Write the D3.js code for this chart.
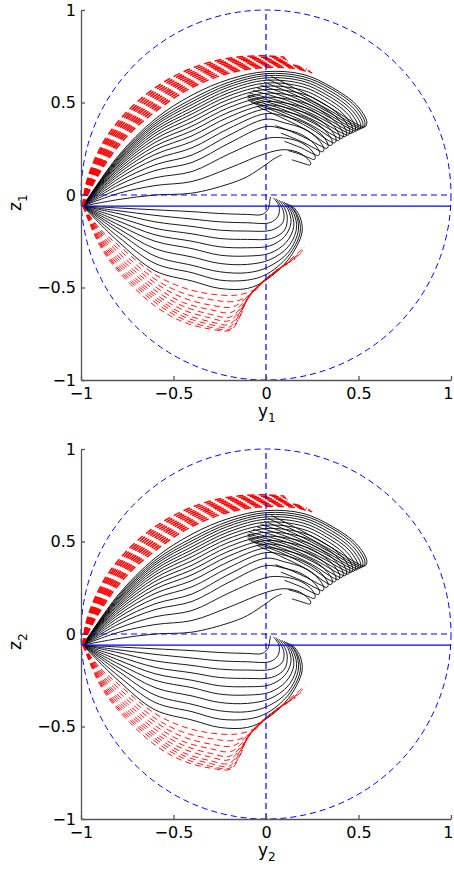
<!DOCTYPE html>
<html><head><meta charset="utf-8">
<script src="https://cdn.jsdelivr.net/npm/d3@7"></script>
<style>body{margin:0;background:#fff}svg{display:block}</style>
</head><body><svg id="c" width="454" height="872"></svg>
<script>
// ---------- data (in data units [y, z]) ----------
const tickValues = [-1, -0.5, 0, 0.5, 1];
const tickLabels = ["\u22121", "\u22120.5", "0", "0.5", "1"];
const axisNames = ["y", "y"];
const axisSubs = ["1", "2"];
const zNames = ["z", "z"];
const solidLineZ = -0.06;

const upperBlack = [
 [[-0.99,-0.06],[-0.8,0.21],[-0.6,0.41],[-0.4,0.54],[-0.2,0.625],[0,0.667],[0.2,0.652],[0.36,0.58],[0.49,0.486],[0.545,0.396],[0.535,0.368],[0.49,0.384],[0.35,0.47],[0.18,0.565],[0.03,0.64]],
 [[-0.99,-0.06],[-0.8,0.202],[-0.6,0.397],[-0.4,0.519],[-0.2,0.61],[0,0.656],[0.2,0.64],[0.35,0.575],[0.48,0.481],[0.535,0.391],[0.525,0.363],[0.48,0.379],[0.34,0.46],[0.17,0.552],[0.01,0.625]],
 [[-0.99,-0.06],[-0.8,0.195],[-0.6,0.385],[-0.4,0.504],[-0.2,0.597],[0,0.645],[0.2,0.628],[0.344,0.564],[0.47,0.472],[0.524,0.385],[0.514,0.358],[0.47,0.374],[0.33,0.452],[0.16,0.54],[-0.01,0.61]],
 [[-0.99,-0.06],[-0.8,0.188],[-0.6,0.374],[-0.4,0.489],[-0.2,0.584],[0,0.633],[0.2,0.615],[0.336,0.553],[0.459,0.464],[0.512,0.379],[0.502,0.352],[0.459,0.367],[0.32,0.445],[0.15,0.528],[-0.03,0.595]],
 [[-0.99,-0.06],[-0.8,0.181],[-0.6,0.361],[-0.4,0.472],[-0.2,0.569],[0,0.62],[0.2,0.60],[0.328,0.541],[0.448,0.455],[0.498,0.372],[0.489,0.346],[0.448,0.361],[0.31,0.437],[0.14,0.516],[-0.05,0.58]],
 [[-0.99,-0.06],[-0.8,0.174],[-0.6,0.348],[-0.4,0.455],[-0.2,0.553],[0,0.605],[0.2,0.584],[0.317,0.53],[0.435,0.445],[0.484,0.364],[0.475,0.339],[0.435,0.353],[0.3,0.428],[0.13,0.505],[-0.07,0.565]],
 [[-0.99,-0.06],[-0.8,0.166],[-0.6,0.334],[-0.4,0.438],[-0.2,0.536],[0,0.588],[0.2,0.566],[0.308,0.516],[0.421,0.435],[0.469,0.356],[0.46,0.332],[0.421,0.346],[0.29,0.418],[0.12,0.494],[-0.09,0.55]],
 [[-0.99,-0.06],[-0.8,0.157],[-0.6,0.319],[-0.4,0.418],[-0.2,0.517],[0,0.57],[0.2,0.546],[0.298,0.502],[0.407,0.423],[0.453,0.348],[0.445,0.324],[0.407,0.337],[0.28,0.408],[0.11,0.484],[-0.1,0.54]],
 [[-0.99,-0.06],[-0.8,0.148],[-0.6,0.302],[-0.4,0.396],[-0.2,0.496],[0,0.55],[0.2,0.524],[0.288,0.485],[0.392,0.409],[0.436,0.337],[0.428,0.315],[0.392,0.328],[0.27,0.398],[0.1,0.474],[-0.1,0.53]],
 [[-0.99,-0.06],[-0.8,0.138],[-0.6,0.284],[-0.4,0.372],[-0.2,0.473],[0,0.528],[0.2,0.50],[0.275,0.468],[0.375,0.396],[0.418,0.327],[0.41,0.305],[0.375,0.317],[0.26,0.387],[0.09,0.463],[-0.1,0.52]],
 [[-0.99,-0.06],[-0.8,0.127],[-0.6,0.264],[-0.4,0.347],[-0.2,0.448],[0,0.505],[0.2,0.475],[0.264,0.449],[0.359,0.38],[0.399,0.314],[0.392,0.294],[0.359,0.306],[0.25,0.375],[0.08,0.452],[-0.095,0.51]],
 [[-0.99,-0.06],[-0.8,0.115],[-0.6,0.243],[-0.4,0.32],[-0.2,0.422],[0,0.486],[0.15,0.462],[0.249,0.43],[0.34,0.365],[0.379,0.302],[0.372,0.282],[0.34,0.293],[0.24,0.36],[0.08,0.44],[-0.08,0.5]],
 [[-0.99,-0.06],[-0.8,0.102],[-0.6,0.219],[-0.4,0.289],[-0.2,0.392],[0,0.465],[0.13,0.445],[0.237,0.408],[0.322,0.346],[0.359,0.286],[0.352,0.268],[0.322,0.279],[0.23,0.345],[0.08,0.42],[-0.05,0.48]],
 [[-0.99,-0.06],[-0.8,0.087],[-0.6,0.193],[-0.4,0.255],[-0.2,0.36],[0,0.44],[0.12,0.42],[0.221,0.383],[0.302,0.325],[0.336,0.269],[0.33,0.252],[0.302,0.262],[0.22,0.305],[0.12,0.35],[0.05,0.375]],
 [[-0.99,-0.06],[-0.8,0.07],[-0.6,0.163],[-0.4,0.216],[-0.2,0.323],[0,0.41],[0.1,0.39],[0.205,0.357],[0.281,0.302],[0.313,0.25],[0.307,0.234],[0.281,0.243],[0.2,0.285],[0.08,0.335]],
 [[-0.99,-0.06],[-0.8,0.052],[-0.6,0.132],[-0.4,0.176],[-0.2,0.28],[0,0.37],[0.1,0.355],[0.189,0.328],[0.26,0.277],[0.29,0.229],[0.284,0.214],[0.26,0.22],[0.19,0.255],[0.1,0.29]],
 [[-0.99,-0.06],[-0.8,0.031],[-0.6,0.093],[-0.4,0.127],[-0.2,0.222],[0,0.305],[0.08,0.31],[0.175,0.29],[0.24,0.248],[0.266,0.206],[0.262,0.192],[0.24,0.198],[0.18,0.222],[0.12,0.24]],
 [[-0.99,-0.06],[-0.8,0.008],[-0.6,0.051],[-0.4,0.073],[-0.2,0.145],[0,0.225],[0.1,0.245],[0.18,0.228],[0.225,0.195],[0.242,0.172],[0.238,0.162],[0.22,0.165],[0.18,0.178],[0.14,0.19]],
 [[-0.99,-0.06],[-0.8,-0.025],[-0.6,0.0],[-0.4,0.01],[-0.2,0.06],[-0.1,0.1],[0,0.165],[0.05,0.2],[0.085,0.216]]
];

const lowerBlack = [
 [[-0.99,-0.06],[-0.8,-0.07],[-0.6,-0.08],[-0.4,-0.09],[-0.25,-0.1],[-0.1,-0.105],[-0.02,-0.105],[0.012,-0.075],[0.02,-0.035],[0.025,-0.01]],
 [[-0.99,-0.06],[-0.8,-0.085],[-0.6,-0.11],[-0.4,-0.13],[-0.25,-0.145],[-0.1,-0.15],[0.02,-0.15],[0.065,-0.115],[0.07,-0.06],[0.04,-0.015]],
 [[-0.99,-0.06],[-0.8,-0.1],[-0.6,-0.145],[-0.4,-0.17],[-0.25,-0.19],[-0.1,-0.195],[0.03,-0.19],[0.09,-0.15],[0.095,-0.09],[0.055,-0.02]],
 [[-0.99,-0.06],[-0.8,-0.12],[-0.6,-0.18],[-0.4,-0.21],[-0.25,-0.235],[-0.1,-0.24],[0.03,-0.235],[0.1,-0.19],[0.115,-0.12],[0.1,-0.07],[0.07,-0.027]],
 [[-0.99,-0.06],[-0.8,-0.14],[-0.6,-0.215],[-0.4,-0.25],[-0.25,-0.28],[-0.1,-0.285],[0.02,-0.275],[0.1,-0.225],[0.135,-0.15],[0.12,-0.08],[0.085,-0.033]],
 [[-0.99,-0.06],[-0.8,-0.16],[-0.6,-0.25],[-0.4,-0.29],[-0.25,-0.325],[-0.1,-0.33],[0.02,-0.315],[0.11,-0.255],[0.15,-0.17],[0.135,-0.09],[0.098,-0.038]],
 [[-0.99,-0.06],[-0.8,-0.18],[-0.6,-0.29],[-0.4,-0.335],[-0.25,-0.37],[-0.1,-0.375],[0.02,-0.35],[0.12,-0.28],[0.165,-0.18],[0.15,-0.1],[0.11,-0.043]],
 [[-0.99,-0.06],[-0.8,-0.2],[-0.6,-0.33],[-0.4,-0.38],[-0.25,-0.415],[-0.1,-0.42],[0.01,-0.39],[0.12,-0.31],[0.175,-0.19],[0.16,-0.1],[0.12,-0.048]],
 [[-0.99,-0.06],[-0.8,-0.225],[-0.6,-0.37],[-0.4,-0.42],[-0.25,-0.46],[-0.1,-0.46],[0.0,-0.43],[0.12,-0.33],[0.185,-0.2],[0.17,-0.11],[0.13,-0.052]],
 [[-0.99,-0.06],[-0.8,-0.25],[-0.6,-0.41],[-0.4,-0.465],[-0.25,-0.505],[-0.1,-0.505],[0.0,-0.46],[0.12,-0.35],[0.195,-0.2],[0.18,-0.11],[0.14,-0.056]]
];

const upperRed = [
 [[-0.99,-0.06],[-0.95,0.03],[-0.89,0.135],[-0.81,0.25],[-0.71,0.36],[-0.58,0.465],[-0.44,0.56],[-0.29,0.63],[-0.13,0.675],[0.03,0.69],[0.15,0.685],[0.25,0.66]],
 [[-0.99,-0.06],[-0.953,0.032],[-0.895,0.139],[-0.817,0.256],[-0.717,0.368],[-0.587,0.474],[-0.446,0.569],[-0.294,0.639],[-0.133,0.683],[0.027,0.697],[0.144,0.692],[0.24,0.668]],
 [[-0.99,-0.06],[-0.956,0.034],[-0.9,0.143],[-0.823,0.261],[-0.723,0.376],[-0.593,0.484],[-0.451,0.579],[-0.299,0.648],[-0.137,0.691],[0.023,0.704],[0.139,0.698],[0.22,0.68]],
 [[-0.99,-0.06],[-0.958,0.037],[-0.905,0.147],[-0.83,0.267],[-0.73,0.383],[-0.6,0.493],[-0.457,0.588],[-0.303,0.657],[-0.14,0.698],[0.02,0.711],[0.133,0.705],[0.2,0.69]],
 [[-0.99,-0.06],[-0.961,0.039],[-0.91,0.151],[-0.837,0.272],[-0.737,0.391],[-0.607,0.503],[-0.462,0.598],[-0.308,0.666],[-0.143,0.706],[0.017,0.718],[0.128,0.712]],
 [[-0.99,-0.06],[-0.964,0.041],[-0.915,0.154],[-0.843,0.278],[-0.743,0.399],[-0.613,0.512],[-0.468,0.607],[-0.312,0.674],[-0.147,0.714],[0.013,0.724],[0.122,0.718]],
 [[-0.99,-0.06],[-0.967,0.043],[-0.92,0.158],[-0.85,0.283],[-0.75,0.407],[-0.62,0.522],[-0.473,0.617],[-0.317,0.683],[-0.15,0.722],[0.01,0.731],[0.117,0.725]],
 [[-0.99,-0.06],[-0.969,0.046],[-0.925,0.162],[-0.857,0.289],[-0.757,0.414],[-0.627,0.531],[-0.479,0.626],[-0.321,0.692],[-0.153,0.729],[0.007,0.738],[0.111,0.732]],
 [[-0.99,-0.06],[-0.972,0.048],[-0.93,0.166],[-0.863,0.294],[-0.763,0.422],[-0.633,0.541],[-0.484,0.636],[-0.326,0.701],[-0.157,0.737],[0.003,0.745],[0.106,0.738]],
 [[-0.99,-0.06],[-0.975,0.05],[-0.935,0.17],[-0.87,0.3],[-0.77,0.43],[-0.64,0.55],[-0.49,0.645],[-0.33,0.71],[-0.16,0.745],[0.0,0.752],[0.1,0.745]]
];

const lowerRed = [
 [[-0.99,-0.06],[-0.9,-0.18],[-0.8,-0.27],[-0.6,-0.43],[-0.45,-0.5],[-0.3,-0.535],[-0.15,-0.54],[-0.05,-0.505],[0.0,-0.455],[0.1,-0.375],[0.21,-0.28]],
 [[-0.99,-0.06],[-0.9,-0.19],[-0.8,-0.29],[-0.6,-0.455],[-0.45,-0.53],[-0.3,-0.565],[-0.17,-0.575],[-0.08,-0.535],[0.0,-0.455],[0.1,-0.38],[0.2,-0.3]],
 [[-0.99,-0.06],[-0.9,-0.2],[-0.8,-0.31],[-0.6,-0.475],[-0.45,-0.555],[-0.3,-0.595],[-0.18,-0.605],[-0.1,-0.55],[0.0,-0.455],[0.1,-0.38],[0.19,-0.315]],
 [[-0.99,-0.06],[-0.9,-0.21],[-0.8,-0.33],[-0.6,-0.495],[-0.45,-0.58],[-0.3,-0.62],[-0.19,-0.635],[-0.11,-0.57],[-0.05,-0.5],[0.0,-0.455],[0.09,-0.385],[0.175,-0.33]],
 [[-0.99,-0.06],[-0.9,-0.22],[-0.8,-0.345],[-0.6,-0.515],[-0.45,-0.6],[-0.3,-0.645],[-0.195,-0.66],[-0.12,-0.59],[-0.06,-0.51],[0.0,-0.455],[0.08,-0.39],[0.16,-0.345]],
 [[-0.99,-0.06],[-0.9,-0.23],[-0.8,-0.36],[-0.6,-0.535],[-0.45,-0.62],[-0.3,-0.665],[-0.2,-0.68],[-0.13,-0.61],[-0.07,-0.52],[0.0,-0.455],[0.07,-0.4],[0.14,-0.355]],
 [[-0.99,-0.06],[-0.9,-0.24],[-0.8,-0.375],[-0.6,-0.55],[-0.45,-0.64],[-0.3,-0.685],[-0.2,-0.7],[-0.135,-0.625],[-0.08,-0.53],[-0.01,-0.46],[0.06,-0.41],[0.12,-0.37]],
 [[-0.99,-0.06],[-0.9,-0.25],[-0.8,-0.39],[-0.6,-0.565],[-0.45,-0.655],[-0.3,-0.7],[-0.2,-0.715],[-0.14,-0.64],[-0.09,-0.545],[-0.02,-0.47],[0.04,-0.42],[0.09,-0.385]],
 [[-0.99,-0.06],[-0.9,-0.26],[-0.8,-0.4],[-0.6,-0.58],[-0.45,-0.67],[-0.3,-0.715],[-0.195,-0.725],[-0.14,-0.655],[-0.1,-0.56],[-0.03,-0.48],[0.02,-0.44],[0.06,-0.4]],
 [[-0.99,-0.06],[-0.9,-0.27],[-0.8,-0.41],[-0.6,-0.6],[-0.45,-0.685],[-0.3,-0.725],[-0.19,-0.73],[-0.145,-0.665],[-0.11,-0.575],[-0.04,-0.49],[0.0,-0.455],[0.03,-0.42]]
];

// ---------- layout ----------
const panels = [
  {top: 10, bottom: 380, xlabY: 417, zlabY: 211},
  {top: 449, bottom: 819, xlabY: 856, zlabY: 650}
];
const plotLeft = 81, plotRight = 451;
const FONT = "'DejaVu Sans', sans-serif";

const svg = d3.select("#c");

panels.forEach((p, pi) => {
  const x = d3.scaleLinear().domain([-1, 1]).range([plotLeft, plotRight]);
  const y = d3.scaleLinear().domain([-1, 1]).range([p.bottom, p.top]);
  const g = svg.append("g");
  const line = d3.line().x(d => x(d[0])).y(d => y(d[1])).curve(d3.curveCatmullRom.alpha(0.5));

  // black curves
  g.append("g").selectAll("path").data(upperBlack.concat(lowerBlack)).join("path")
    .attr("d", line).attr("fill", "none").attr("stroke", "#000").attr("stroke-width", 0.9);

  // red dashed curves
  g.append("g").selectAll("path").data(upperRed).join("path")
    .attr("d", line).attr("fill", "none").attr("stroke", "#ff0000")
    .attr("stroke-width", 1.5).attr("stroke-dasharray", "7,4");
  g.append("g").selectAll("path").data(lowerRed).join("path")
    .attr("d", line).attr("fill", "none").attr("stroke", "#ff0000")
    .attr("stroke-width", 0.9).attr("stroke-dasharray", "6,4");

  // blue reference lines
  const blue = g.append("g").attr("fill", "none").attr("stroke", "#0000ff");
  blue.append("circle").attr("cx", x(0)).attr("cy", y(0)).attr("r", x(1) - x(0))
    .attr("stroke-dasharray", "6,4").attr("stroke-width", 1);
  blue.append("line").attr("x1", x(0)).attr("x2", x(0)).attr("y1", y(-1)).attr("y2", y(1))
    .attr("stroke-dasharray", "6,4").attr("stroke-width", 1.2);
  blue.append("line").attr("x1", x(-1)).attr("x2", x(1)).attr("y1", y(0)).attr("y2", y(0))
    .attr("stroke-dasharray", "6,4").attr("stroke-width", 1.2);
  blue.append("line").attr("x1", x(-1)).attr("x2", x(1)).attr("y1", y(solidLineZ)).attr("y2", y(solidLineZ))
    .attr("stroke-width", 1.3);

  // axes
  const fmt = (d) => tickLabels[tickValues.indexOf(d)];
  const ax = g.append("g").attr("transform", `translate(${plotLeft},0)`)
    .call(d3.axisLeft(y).tickValues(tickValues).tickFormat(fmt).tickSize(-4).tickSizeOuter(0).tickPadding(5));
  const bx = g.append("g").attr("transform", `translate(0,${p.bottom})`)
    .call(d3.axisBottom(x).tickValues(tickValues).tickFormat(fmt).tickSize(-4).tickSizeOuter(0).tickPadding(8));
  [ax, bx].forEach(a => {
    a.select(".domain").attr("stroke", "#555").attr("stroke-width", 1.3);
    a.selectAll(".tick line").attr("stroke", "#555").attr("stroke-width", 1.3);
    a.selectAll("text").attr("fill", "#000").style("font-family", FONT).style("font-size", "16px");
  });
  // keep the last x tick label inside the picture
  bx.selectAll(".tick text").filter(d => d === 1).attr("text-anchor", "end").attr("dx", 2);

  // axis titles
  const xt = g.append("text").attr("x", 258).attr("y", p.xlabY)
    .style("font-family", FONT).style("font-size", "17px").attr("fill", "#000");
  xt.append("tspan").text(axisNames[pi]);
  xt.append("tspan").attr("dy", 5).style("font-size", "12px").text(axisSubs[pi]);

  const zt = g.append("text").attr("transform", `translate(21,${p.zlabY}) rotate(-90)`)
    .style("font-family", FONT).style("font-size", "17px").attr("fill", "#000");
  zt.append("tspan").text(zNames[pi]);
  zt.append("tspan").attr("dy", 6).style("font-size", "12px").text(axisSubs[pi]);
});
</script>
</body></html>
